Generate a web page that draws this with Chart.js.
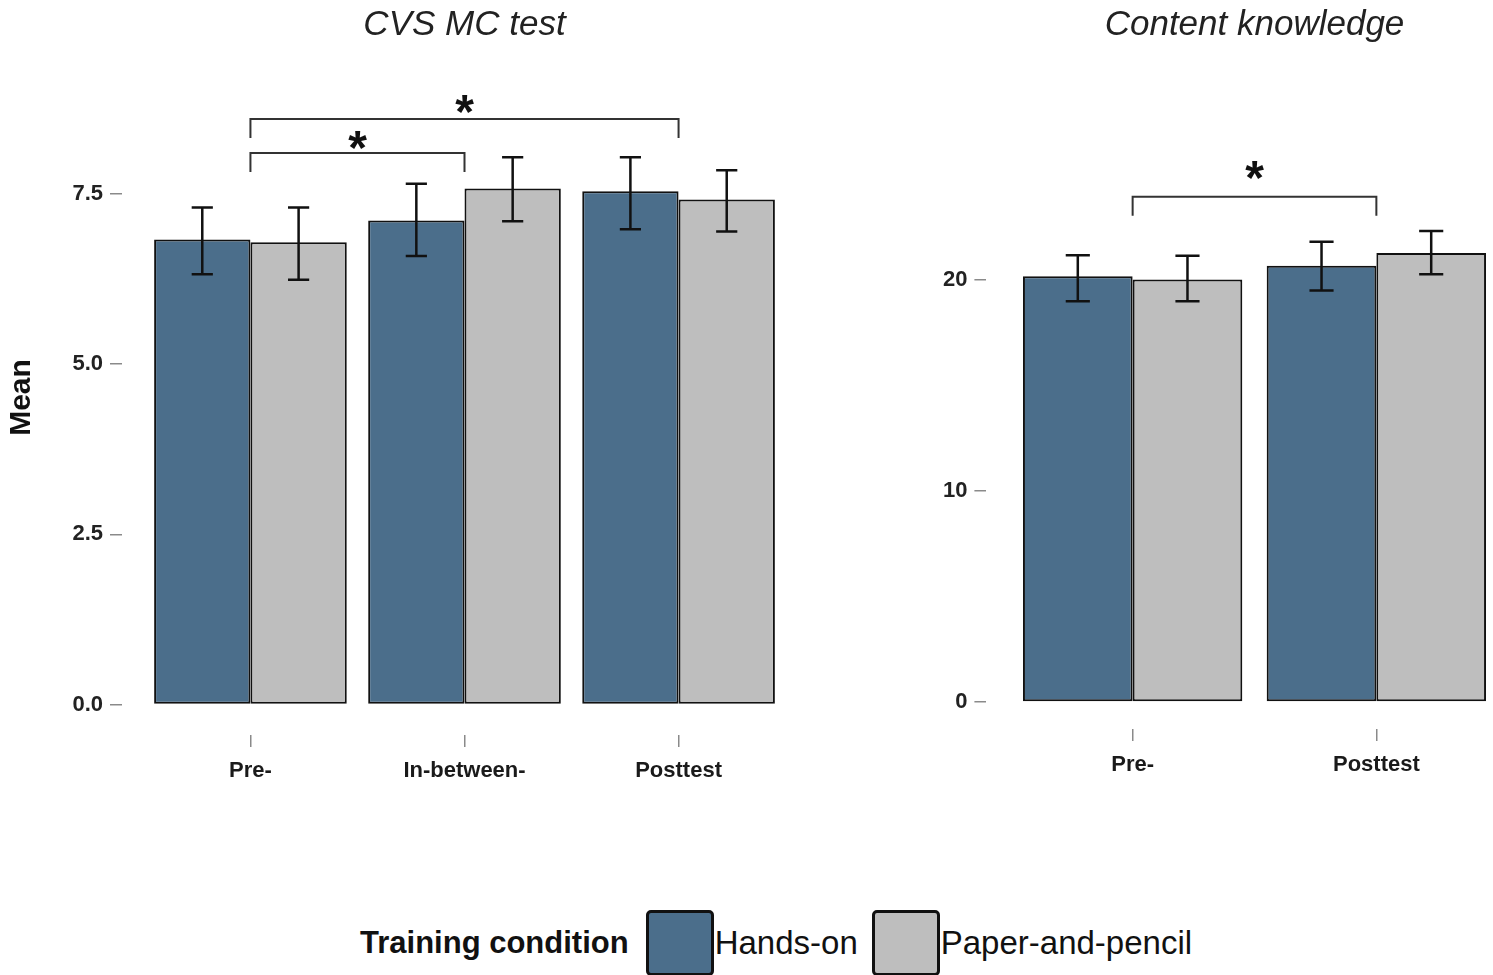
<!DOCTYPE html>
<html>
<head>
<meta charset="utf-8">
<script src="https://cdn.jsdelivr.net/npm/chart.js@4/dist/chart.umd.min.js"></script>
<style>
  html, body { margin: 0; padding: 0; background: #fff; overflow: hidden; }
  body { width: 1493px; height: 975px; position: relative; font-family: "Liberation Sans", Arial, sans-serif; }
  .panel { position: absolute; top: 0; height: 800px; }
  #legend { position: absolute; left: 360px; top: 910px; display: flex; align-items: center; color: #111; }
  #legend .ttl { font-weight: bold; font-size: 31px; margin-right: 17px; }
  #legend .box { width: 62px; height: 60px; border: 3px solid #111; border-radius: 5px; }
  #legend .lbl { font-size: 33px; margin-left: 1px; margin-right: 14px; }
</style>
</head>
<body>
<div class="panel" style="left:0;width:820px"><canvas id="cvs"></canvas></div>
<div class="panel" style="left:880px;width:660px"><canvas id="ck"></canvas></div>
<div id="legend"></div>

<script>
// Series names + colours
const seriesNames = ["Hands-on", "Paper-and-pencil"];
const seriesColors = ["#4b6e8b", "#bebebe"];

// CVS MC test
const cvsCats = ["Pre-", "In-between-", "Posttest"];
const cvsHands = [6.83, 7.11, 7.54];
const cvsHandsLo = [6.32, 6.59, 6.98];
const cvsHandsHi = [7.30, 7.65, 8.04];
const cvsPaper = [6.79, 7.58, 7.42];
const cvsPaperLo = [6.24, 7.10, 6.95];
const cvsPaperHi = [7.30, 8.04, 7.85];
const cvsTicks = [0, 2.5, 5, 7.5];
// significance brackets: from/to category index, bracket level, star level
const cvsSigFrom = [0, 0];
const cvsSigTo = [2, 1];
const cvsSigLevel = [8.60, 8.10];
const cvsSigStar = [8.88, 8.35];

// Content knowledge
const ckCats = ["Pre-", "Posttest"];
const ckHands = [20.18, 20.68];
const ckHandsLo = [19.0, 19.51];
const ckHandsHi = [21.17, 21.82];
const ckPaper = [20.03, 21.28];
const ckPaperLo = [19.0, 20.28];
const ckPaperHi = [21.15, 22.32];
const ckTicks = [0, 10, 20];
const ckSigFrom = [0];
const ckSigTo = [1];
const ckSigLevel = [23.95];
const ckSigStar = [25.4];

const FONT = '"Liberation Sans", Arial, sans-serif';

// error bars + brackets drawn on top of the bars
const extras = {
  id: "extras",
  afterDatasetsDraw(chart, args, o) {
    const ctx = chart.ctx, xs = chart.scales.x, ys = chart.scales.y;
    ctx.save();
    ctx.strokeStyle = "#111";
    ctx.lineWidth = 2.5;
    o.err.forEach((e, i) => {
      chart.getDatasetMeta(i).data.forEach((bar, j) => {
        const top = ys.getPixelForValue(e.hi[j]), bot = ys.getPixelForValue(e.lo[j]);
        const c = bar.width * 0.11;
        ctx.beginPath();
        ctx.moveTo(bar.x, top); ctx.lineTo(bar.x, bot);
        ctx.moveTo(bar.x - c, top); ctx.lineTo(bar.x + c, top);
        ctx.moveTo(bar.x - c, bot); ctx.lineTo(bar.x + c, bot);
        ctx.stroke();
      });
    });
    ctx.strokeStyle = "#333";
    ctx.lineWidth = 2;
    ctx.fillStyle = "#111";
    ctx.font = "bold 48px " + FONT;
    ctx.textAlign = "center";
    ctx.textBaseline = "alphabetic";
    o.sig.from.forEach((f, k) => {
      const x1 = xs.getPixelForValue(f + 1), x2 = xs.getPixelForValue(o.sig.to[k] + 1);
      const y = ys.getPixelForValue(o.sig.level[k]);
      ctx.beginPath();
      ctx.moveTo(x1, y + 19); ctx.lineTo(x1, y); ctx.lineTo(x2, y); ctx.lineTo(x2, y + 19);
      ctx.stroke();
      ctx.fillText("*", (x1 + x2) / 2, ys.getPixelForValue(o.sig.star[k]) + 0.58 * 48);
    });
    ctx.restore();
  }
};

function makeChart(id, cfg) {
  const n = cfg.cats.length;
  return new Chart(document.getElementById(id), {
    type: "bar",
    data: {
      datasets: [cfg.hands, cfg.paper].map((vals, i) => ({
        label: seriesNames[i],
        data: vals.map((v, j) => ({ x: j + 1, y: v })),
        backgroundColor: seriesColors[i],
        borderColor: "#111",
        borderWidth: 2,
        borderSkipped: false,
        categoryPercentage: 0.9,
        barPercentage: 1
      }))
    },
    options: {
      responsive: true,
      maintainAspectRatio: false,
      animation: false,
      layout: { padding: { left: 0, right: cfg.padRight, top: 0, bottom: 0 } },
      plugins: {
        legend: { display: false },
        tooltip: { enabled: false },
        title: {
          display: true, text: cfg.title, fullSize: false, color: "#222",
          font: { family: FONT, size: 35, style: "italic", weight: "normal", lineHeight: 1.2 },
          padding: { top: 4, bottom: 14 }
        },
        extras: { err: cfg.err, sig: cfg.sig }
      },
      scales: {
        x: {
          type: "linear", min: 0.4, max: n + 0.6, offset: false,
          afterBuildTicks: s => { s.ticks = cfg.cats.map((c, j) => ({ value: j + 1 })); },
          afterFit: s => { s.height = cfg.xHeight; },
          ticks: {
            callback: v => cfg.cats[v - 1], color: "#1a1a1a", padding: 11, maxRotation: 0,
            font: { family: FONT, size: 22, weight: "bold" }
          },
          grid: { offset: false, drawOnChartArea: false, tickLength: 12, color: "#8a8a8a", lineWidth: 1.5 },
          border: { display: false }
        },
        y: {
          min: cfg.yMin, max: cfg.yMax,
          afterBuildTicks: s => { s.ticks = cfg.yTicks.map(v => ({ value: v })); },
          afterFit: s => { s.width = cfg.yWidth; },
          ticks: {
            callback: v => cfg.fmt(v), color: "#222", padding: 7,
            font: { family: FONT, size: 22, weight: "bold" }
          },
          grid: { drawOnChartArea: false, tickLength: 12, color: "#8a8a8a", lineWidth: 1.5 },
          border: { display: false },
          title: {
            display: cfg.yTitle !== "", text: cfg.yTitle, color: "#111",
            font: { family: FONT, size: 30, weight: "bold" }, padding: { top: 4, bottom: 0 }
          }
        }
      }
    },
    plugins: [extras]
  });
}

makeChart("cvs", {
  title: "CVS MC test", cats: cvsCats, hands: cvsHands, paper: cvsPaper,
  err: [{ lo: cvsHandsLo, hi: cvsHandsHi }, { lo: cvsPaperLo, hi: cvsPaperHi }],
  sig: { from: cvsSigFrom, to: cvsSigTo, level: cvsSigLevel, star: cvsSigStar },
  yTicks: cvsTicks, fmt: v => v.toFixed(1), yMin: -0.448, yMax: 9.468,
  yTitle: "Mean", yWidth: 122, xHeight: 65, padRight: 13
});

makeChart("ck", {
  title: "Content knowledge", cats: ckCats, hands: ckHands, paper: ckPaper,
  err: [{ lo: ckHandsLo, hi: ckHandsHi }, { lo: ckPaperLo, hi: ckPaperHi }],
  sig: { from: ckSigFrom, to: ckSigTo, level: ckSigLevel, star: ckSigStar },
  yTicks: ckTicks, fmt: v => String(v), yMin: -1.28, yMax: 30.43,
  yTitle: "", yWidth: 106.4, xHeight: 71, padRight: 17.4
});

// legend
const leg = document.getElementById("legend");
leg.innerHTML = '<span class="ttl">Training condition</span>' +
  seriesNames.map((s, i) => `<span class="box" style="background:${seriesColors[i]}"></span><span class="lbl">${s}</span>`).join("");
</script>
</body>
</html>
